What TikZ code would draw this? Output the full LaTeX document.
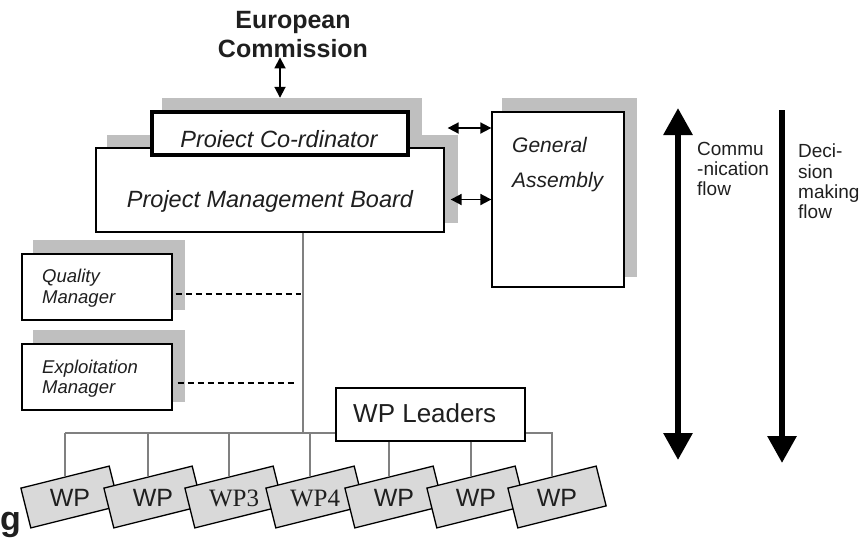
\documentclass[tikz,border=0pt]{standalone}
\usepackage{fontspec}
\setmainfont{Liberation Sans}
\newfontfamily\serifwp{Liberation Serif}
\usetikzlibrary{arrows.meta,calc}
\newcommand\setfs[1]{\fontsize{#1}{#1}\selectfont}
\begin{document}
\begin{tikzpicture}[x=1pt,y=-1pt,
  box/.style={draw=black,line width=1.3pt,fill=white,inner sep=0pt},
  shadowbox/.style={fill=black!25,inner sep=0pt},
  wpbox/.style={draw=black,line width=1.3pt,fill=black!15,inner sep=0pt,
    minimum width=91pt,minimum height=41pt,rotate=14},
  txt/.style={inner sep=0pt,text=black!88},
  tree/.style={draw=black!50,line width=1.4pt},
  dashline/.style={draw=black,line width=1.1pt,dash pattern=on 6pt off 4pt},
  dbl/.style={line width=1.8pt,{Triangle[length=11pt,width=11pt]}-{Triangle[length=11pt,width=11pt]}},
  bigarrow/.style={line width=6pt}]
\useasboundingbox (0,0) rectangle (866,539);

% shadows
\node[shadowbox,minimum width=351pt,minimum height=88pt] (pmbsh) at (282.5,179) {};
\node[shadowbox,minimum width=260pt,minimum height=52pt] (pcsh) at (292,124) {};
\node[shadowbox,minimum width=135pt,minimum height=179pt] (gash) at (569.5,187.5) {};
\node[shadowbox,minimum width=152pt,minimum height=70pt] (qmsh) at (109,275) {};
\node[shadowbox,minimum width=152pt,minimum height=72pt] (emsh) at (109,366) {};

% boxes
\node[box,minimum width=348pt,minimum height=84pt] (pmb) at (270,190) {};
\node[box,line width=4pt,minimum width=256pt,minimum height=43pt] (pc) at (280,133.5) {};
\node[box,minimum width=132pt,minimum height=175pt] (ga) at (558,199.5) {};
\node[box,minimum width=150pt,minimum height=66pt] (qm) at (97,287) {};
\node[box,minimum width=150pt,minimum height=66pt] (em) at (97,377) {};

% texts
\node[txt,font=\bfseries\setfs{25},anchor=base] (ec1) at (293,28) {European};
\node[txt,font=\bfseries\setfs{25},anchor=base] (ec2) at (293,57) {Commission};
\node[txt,font=\itshape\setfs{23.5},anchor=base] (pct) at (279,147) {Proiect Co-rdinator};
\node[txt,font=\itshape\setfs{23.5},anchor=base] (pmbt) at (270,207) {Project Management Board};
\node[txt,font=\itshape\setfs{21},anchor=base west] (gat1) at (512,152) {General};
\node[txt,font=\itshape\setfs{21},anchor=base west] (gat2) at (512,187) {Assembly};
\node[txt,font=\itshape\setfs{18.5},anchor=base west] (qmt1) at (42,282) {Quality};
\node[txt,font=\itshape\setfs{18.5},anchor=base west] (qmt2) at (42,303) {Manager};
\node[txt,font=\itshape\setfs{18.5},anchor=base west] (emt1) at (42,373) {Exploitation};
\node[txt,font=\itshape\setfs{18.5},anchor=base west] (emt2) at (42,393) {Manager};

% arrows EC / GA
\draw[dbl] (ec2.south -| pc.north) -- (pcsh.north -| pc.north);
\path ([xshift=3pt]pmb.east) coordinate (pmbE1) ([xshift=6pt]pmb.east) coordinate (pmbE2);
\path ([yshift=5.5pt]pc.center) coordinate (upy);
\draw[dbl] (pmbE1 |- upy) -- (ga.west |- upy);
\draw[dbl] (pmbE2 |- ga.west) -- (ga.west);

% dashed links
\draw[dashline] ([shift={(3,7)}]qm.east) -- +(125,0);
\draw[dashline] ([shift={(5,6)}]em.east) -- +(116,0);

% WP boxes
\foreach \i/\x/\t in {1/70/WP,2/153/WP,3/234/{\serifwp WP3},4/315/{\serifwp WP4},5/394/WP,6/476/WP,7/557/WP}{
  \node[wpbox] (wp\i) at (\x,497) {};
  \node[txt,font=\setfs{25}] (wpt\i) at (\x,498) {\t};
}

% tree
\coordinate (bar) at (303,433);
\draw[tree] (pmb.south -| bar) -- (bar);
\draw[tree] (wp1.north |- bar) -- (wp7.north |- bar) -- (wp7.north);
\foreach \i in {1,2,3,4}{\draw[tree] (wp\i.north |- bar) -- (wp\i.north);}
\node[box,minimum width=189pt,minimum height=53pt] (wpl) at (430.5,414.5) {};
\node[txt,font=\setfs{26},anchor=base west] (wplt) at (353,422) {WP Leaders};
\foreach \i in {5,6}{\draw[tree] (wp\i.north |- wpl.south) -- (wp\i.north);}

% flow arrows
\coordinate (comtop) at (678,108);
\coordinate (combot) at (678,460);
\coordinate (dectop) at (782,110);
\coordinate (decbot) at (782,463);
\draw[bigarrow,{Triangle[length=27pt,width=28pt]}-{Triangle[length=27pt,width=28pt]}] (comtop) -- (combot);
\draw[bigarrow,-{Triangle[length=27pt,width=28pt]}] (dectop) -- (decbot);
\node[txt,font=\setfs{19},anchor=base west] (cf1) at (697,155) {Commu};
\node[txt,font=\setfs{19},anchor=base west] (cf2) at (697,175) {-nication};
\node[txt,font=\setfs{19},anchor=base west] (cf3) at (697,195) {flow};
\node[txt,font=\setfs{19},anchor=base west] (df1) at (798,157) {Deci-};
\node[txt,font=\setfs{19},anchor=base west] (df2) at (798,178) {sion};
\node[txt,font=\setfs{19},anchor=base west] (df3) at (798,198) {making};
\node[txt,font=\setfs{19},anchor=base west] (df4) at (798,218) {flow};

% fragment of a heading
\node[txt,font=\bfseries\setfs{34},anchor=base west] (gfrag) at (0,530) {g};
\end{tikzpicture}
\end{document}
